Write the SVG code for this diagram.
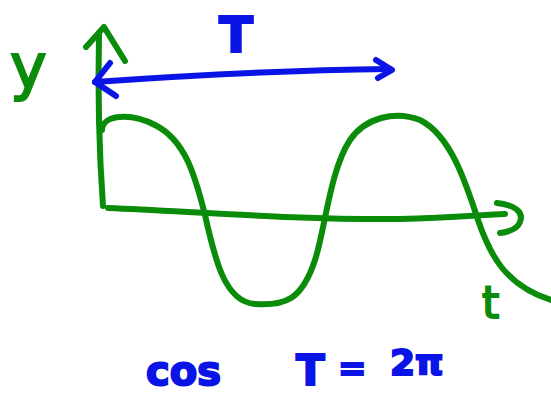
<svg xmlns="http://www.w3.org/2000/svg" width="551" height="397" viewBox="0 0 551 397">
<style>
.g{fill:none;stroke:#0a8c0a;stroke-width:6;stroke-linecap:round;stroke-linejoin:round}
.b{fill:none;stroke:#0a14e6;stroke-width:6;stroke-linecap:round;stroke-linejoin:round}
.tg{fill:#0a8c0a;stroke:#0a8c0a;stroke-width:2;font-family:"DejaVu Sans",sans-serif}
.tb{fill:#0a14e6;stroke:#0a14e6;stroke-width:2;font-family:"DejaVu Sans",sans-serif;font-weight:bold}
</style>
<rect width="551" height="397" fill="#ffffff"/>
<g id="connectors">
<path class="g" d="M99,34 C98,80 99,150 103,206"/>
<path class="g" d="M86,47 L104,27 L125,61"/>
<path class="g" d="M108,208 C200,212 300,220 400,219 C450,218 480,215 505,214"/>
<path class="g" d="M497,203 C515,205 524,212 520,222 C517,230 508,232 500,233"/>
<path class="b" d="M95,82 C180,76 300,70 390,69"/>
<path class="b" d="M110,63 L95,82 L116,96"/>
<path class="b" d="M376,60 L392,70 L378,78"/>
</g>
<g id="wave">
<path class="g" d="M102,130 C102,115 130,112 155,125 C185,140 195,175 205,215 C215,260 225,302 255,304 C285,306 302,300 315,260 C325,230 330,170 350,140 C365,118 395,110 420,120 C450,135 465,180 478,220 C490,255 505,285 551,300"/>
</g>
<g id="label-y"><text class="tg" x="10" y="88" font-size="62">y</text></g>
<g id="label-T"><text class="tb" x="219" y="52" font-size="50">T</text></g>
<g id="label-t"><text class="tg" x="482" y="318" font-size="44">t</text></g>
<g id="label-cos"><text class="tb" x="146" y="385" font-size="40">cos</text></g>
<g id="label-formula"><text class="tb" x="296" y="385" font-size="42">T</text><text class="tb" x="338" y="380" font-size="34">=</text><text class="tb" x="390" y="375" font-size="36">2π</text></g>
</svg>
